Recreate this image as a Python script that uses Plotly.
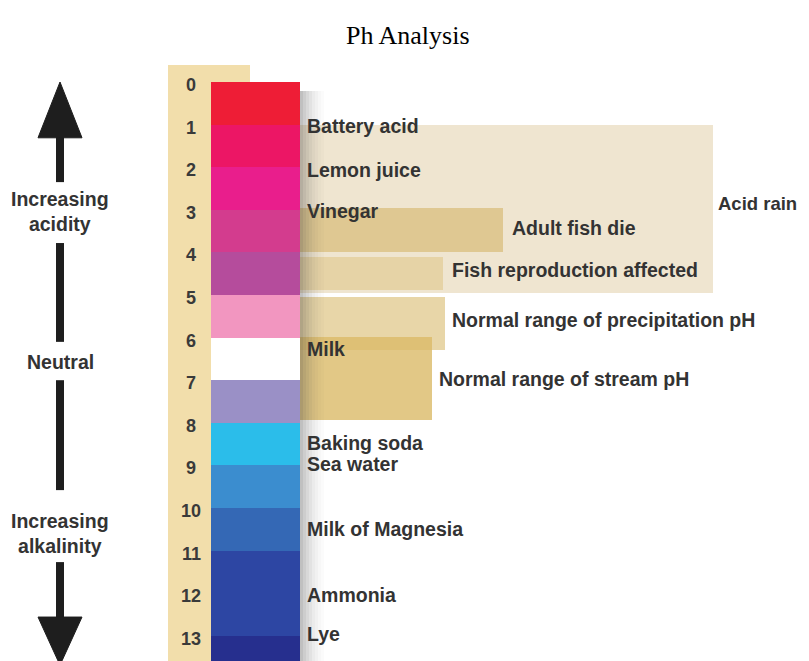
import plotly.graph_objects as go

# ---------------- data ----------------
ph_levels = list(range(14))                      # 0 .. 13 tick labels
band_colors = ["#EE1D36", "#EC1665", "#E91E8C", "#D33C8E", "#B54C9C", "#F296C0",
               "#FFFFFF", "#9A90C6", "#2BBDEA", "#3B8DCF", "#3468B5", "#2D46A3",
               "#2D46A3", "#262F8E"]

substances = ["Battery acid", "Lemon juice", "Vinegar", "Milk", "Baking soda",
              "Sea water", "Milk of Magnesia", "Ammonia", "Lye"]
substance_ph = [1.03, 2.07, 3.03, 6.27, 8.47, 8.97, 10.5, 12.04, 12.96]

range_names = ["Acid rain", "Adult fish die", "Fish reproduction affected",
               "Normal range of precipitation pH", "Normal range of stream pH"]
range_low = [1.0, 2.96, 4.1, 5.05, 5.99]
range_high = [4.95, 3.99, 4.88, 6.29, 7.93]
range_label_ph = [2.85, 3.43, 4.41, 5.59, 6.97]

# ---------------- layout / style ----------------
W, H = 809, 661
PAGE_OFFSET = 8                          # page body margin around the plot div
PX_TOP, PX_PER_PH = 82.0, 42.6          # screen row of pH 0, pixels per pH unit
Y_RANGE = [(H + PAGE_OFFSET - PX_TOP) / PX_PER_PH, (PAGE_OFFSET - PX_TOP) / PX_PER_PH]
X_RANGE = [PAGE_OFFSET, W + PAGE_OFFSET]

COL_X0, COL_X1, COL_TOP_X1 = 168, 212, 250
BAR_X0, BAR_X1 = 211, 300
range_x1 = [713, 503, 443, 445, 432]
range_label_x = [716, 510, 450, 450, 437]
range_label_size = [18.5, 19.5, 19.5, 19.5, 19.5]
range_colors = ["#EFE5D0", "#DFC892", "#E6D3A6", "#E8D6A8", "rgba(219,186,104,0.8)"]
TAN = "#F2DEAB"
TXT = "#333333"
LABEL_FONT = dict(family="Liberation Sans, Arial", size=19.5, color=TXT)

fig = go.Figure()

def hbar(y0, y1, x0, x1, color):
    fig.add_trace(go.Bar(orientation="h", y=[(y0 + y1) / 2], x=[x1 - x0], base=[x0],
                         width=[y1 - y0], marker=dict(color=color, line=dict(width=0)),
                         hoverinfo="skip", showlegend=False))

# tan number column
hbar(-0.4, 14.0, COL_X0, COL_X1, TAN)
hbar(-0.4, 0.0, COL_X0, COL_TOP_X1, TAN)

# colour scale
for ph, c in zip(ph_levels, band_colors):
    hbar(ph, ph + 1, BAR_X0, BAR_X1, c)

# range bands
for lo, hi, x1, c in zip(range_low, range_high, range_x1, range_colors):
    hbar(lo, hi, BAR_X1, x1, c)

# soft shadow right of the colour scale
shadow_alpha = [0.32, 0.26, 0.2, 0.15, 0.1, 0.07, 0.04, 0.02]
for i, a in enumerate(shadow_alpha):
    hbar(0.2, 14.0, BAR_X1 + 3 * i, BAR_X1 + 3 * (i + 1), f"rgba(60,60,60,{a})")

# arrows on the left
ARROW_X, SHAFT_W = 60, 8
shafts = [(1.2, 2.35), (3.78, 6.10), (7.0, 9.58), (11.27, 12.7)]
for y0, y1 in shafts:
    fig.add_trace(go.Scatter(x=[ARROW_X, ARROW_X], y=[y0, y1], mode="lines",
                             line=dict(color="#1E1E1E", width=SHAFT_W),
                             hoverinfo="skip", showlegend=False))
heads = [(0.0, 1.31), (13.69, 12.56)]   # tip, base
for tip, base in heads:
    fig.add_trace(go.Scatter(x=[ARROW_X, ARROW_X + 22, ARROW_X - 22, ARROW_X],
                             y=[tip, base, base, tip], mode="lines", fill="toself",
                             fillcolor="#1E1E1E", line=dict(color="#1E1E1E", width=1),
                             hoverinfo="skip", showlegend=False))

annotations = []
side_labels = [("Increasing<br>acidity", 3.05), ("Neutral", 6.57),
               ("Increasing<br>alkalinity", 10.59)]
for t, y in side_labels:
    annotations.append(dict(x=ARROW_X, y=y, xref="x", yref="y", text=f"<b>{t}</b>",
                            showarrow=False, xanchor="center", yanchor="middle",
                            font=LABEL_FONT))

for ph in ph_levels:
    annotations.append(dict(x=(COL_X0 + COL_X1) / 2 + 1, y=ph + 0.07, xref="x", yref="y",
                            text=f"<b>{ph}</b>", showarrow=False, xanchor="center",
                            yanchor="middle",
                            font=dict(family="Liberation Sans, Arial", size=18,
                                      color="#3A3A3A")))

for name, ph in zip(substances, substance_ph):
    annotations.append(dict(x=305, y=ph, xref="x", yref="y", text=f"<b>{name}</b>",
                            showarrow=False, xanchor="left", yanchor="middle",
                            font=LABEL_FONT))

for name, y, x, s in zip(range_names, range_label_ph, range_label_x, range_label_size):
    annotations.append(dict(x=x, y=y, xref="x", yref="y", text=f"<b>{name}</b>",
                            showarrow=False, xanchor="left", yanchor="middle",
                            font=dict(LABEL_FONT, size=s)))

annotations.append(dict(x=408, y=1 - (36 - PAGE_OFFSET) / H, xref="x", yref="paper",
                        text="Ph Analysis", showarrow=False, xanchor="center",
                        yanchor="middle",
                        font=dict(family="Liberation Serif, Times New Roman", size=26,
                                  color="#000000")))

fig.update_layout(
    width=W, height=H, margin=dict(l=0, r=0, t=0, b=0),
    paper_bgcolor="white", plot_bgcolor="white",
    barmode="overlay", bargap=0, showlegend=False,
    xaxis=dict(range=X_RANGE, visible=False, fixedrange=True),
    yaxis=dict(range=Y_RANGE, visible=False, fixedrange=True),
    annotations=annotations,
)

fig.write_html("out.html")
